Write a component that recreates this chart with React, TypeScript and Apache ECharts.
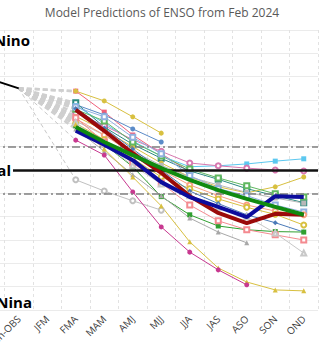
import { useEffect, useRef } from "react";
import * as echarts from "echarts";

const categories = ["Dec-OBS", "Jan-OBS", "JFM", "FMA", "MAM", "AMJ", "MJJ", "JJA", "JAS", "ASO", "SON", "OND"];
const observed = [1.95, 1.75];

// Forecasts from FMA onward
const modelPinkSq = [1.69, 1.24, 0.75, 0.35, -0.04];
const modelGoldShort = [1.69, 1.48, 1.14, 0.79];
const modelBlueShort = [1.4, 1.18, 0.88, 0.6];
const modelTeal = [1.44, 0.92, 0.55, 0.25, -0.02, -0.2, -0.4, -0.55, -0.7];
const modelCyan = [1.38, 1.0, 0.62, 0.3, 0.07, 0.09, 0.13, 0.19, 0.24];
const modelPinkCircle = [1.22, 0.95, 0.65, 0.4, 0.15, 0.09, 0.04, 0.0, -0.02];
const modelGoldCircle = [1.15, 0.85, 0.5, 0.15, -0.15, -0.36, -0.49, -0.36, -0.15];
const modelGreenSq = [1.3, 1.05, 0.6, 0.3, 0.02, -0.17, -0.34, -0.51, -0.58];
const modelGraySq = [1.05, 0.75, 0.4, 0.1, -0.15, -0.32, -0.48, -0.6, -0.71];
const modelSteelSq = [1.35, 1.14, 0.7, 0.35, -0.12, -0.4, -0.55, -0.75, -0.9];
const modelSalmon = [1.1, 0.75, 0.35, 0.0, -0.32, -0.55, -0.75, -0.88, -0.96];
const modelGoldOpen = [1.0, 0.65, 0.25, -0.15, -0.4, -0.62, -0.8, -0.95, -1.18];
const modelSteelDiamond = [1.32, 0.9, 0.45, 0.0, -0.45, -0.72, -0.96, -1.13, -1.33];
const modelGreenFilled = [0.95, 0.55, 0.07, -0.57, -0.96, -1.2, -1.28, -1.32, -1.33];
const modelPinkOpenSq = [1.12, 0.6, 0.15, -0.28, -0.75, -1.09, -1.28, -1.39, -1.5];
const modelGrayOpenTri = [1.02, 0.55, 0.1, -0.3, -0.55, -0.8, -1.0, -1.35, -1.78];
const modelGrayTri = [0.88, 0.4, -0.1, -0.55, -1.03, -1.33, -1.56];
const modelGrayCircle = [-0.21, -0.45, -0.66, -0.86];
const modelGoldTri = [0.98, 0.45, -0.15, -0.77, -1.54, -2.1, -2.4, -2.57, -2.59];
const modelMagenta = [0.64, 0.32, -0.47, -1.22, -1.76, -2.14, -2.46];

const avgStatistical = [1.29, 0.84, 0.36, -0.06, -0.56, -0.92, -1.14, -0.94, -0.96];
const avgDynamical = [0.84, 0.54, 0.21, -0.26, -0.58, -0.79, -1.01, -0.56, -0.58];
const consensus = [0.92, 0.6, 0.32, 0.04, -0.21, -0.43, -0.62, -0.79, -0.96];

const FIRST = 3;

const models = [
  { name: "M1", data: modelPinkSq, color: "#f0607a", symbol: "rect", thinConn: false },
  { name: "M2", data: modelGoldShort, color: "#d8c040", symbol: "circle", thinConn: false },
  { name: "M3", data: modelBlueShort, color: "#5b8bc8", symbol: "circle", thinConn: false },
  { name: "M4", data: modelTeal, color: "#2a8a80", symbol: "emptyRect", thinConn: false },
  { name: "M5", data: modelCyan, color: "#5cc8f0", symbol: "rect", thinConn: false },
  { name: "M6", data: modelPinkCircle, color: "#d878b0", symbol: "emptyCircle", thinConn: false },
  { name: "M7", data: modelGoldCircle, color: "#d8c040", symbol: "circle", thinConn: false },
  { name: "M8", data: modelGreenSq, color: "#60b860", symbol: "emptyRect", thinConn: false },
  { name: "M9", data: modelGraySq, color: "#b8b8b8", symbol: "rect", thinConn: false },
  { name: "M10", data: modelSteelSq, color: "#90b0e0", symbol: "emptyRect", thinConn: false },
  { name: "M11", data: modelSalmon, color: "#f8a080", symbol: "emptyCircle", thinConn: false },
  { name: "M12", data: modelGoldOpen, color: "#d8c040", symbol: "emptyCircle", thinConn: false },
  { name: "M13", data: modelSteelDiamond, color: "#4a7ab8", symbol: "diamond", thinConn: false },
  { name: "M14", data: modelGreenFilled, color: "#30a030", symbol: "rect", thinConn: false },
  { name: "M15", data: modelPinkOpenSq, color: "#f48a90", symbol: "emptyRect", thinConn: false },
  { name: "M16", data: modelGrayOpenTri, color: "#c8c8c8", symbol: "emptyTriangle", thinConn: false },
  { name: "M17", data: modelGrayTri, color: "#a8a8a8", symbol: "triangle", thinConn: false },
  { name: "M18", data: modelGrayCircle, color: "#c0c0c0", symbol: "emptyCircle", thinConn: true },
  { name: "M19", data: modelGoldTri, color: "#d8c040", symbol: "triangle", thinConn: false },
  { name: "M20", data: modelMagenta, color: "#c83890", symbol: "circle", thinConn: true },
];

const thick = [
  { name: "Average statistical", data: avgStatistical, color: "#9a0a0a" },
  { name: "Average dynamical", data: avgDynamical, color: "#0c0c9c" },
  { name: "Consensus", data: consensus, color: "#108a10" },
];

function pad(vals: number[]) {
  return categories.map((_, i) => {
    const k = i - FIRST;
    return k >= 0 && k < vals.length ? vals[k] : "-";
  });
}

export default function App() {
  const ref = useRef<HTMLDivElement>(null);
  useEffect(() => {
    if (!ref.current) return;
    const chart = echarts.init(ref.current, null, { renderer: "svg" });
    const series: any[] = [];
    models.forEach((m) => {
      series.push({
        name: m.name + "-conn",
        type: "line",
        data: categories.map((_, i) => (i === 1 ? observed[1] : i === FIRST ? m.data[0] : "-")),
        connectNulls: true,
        symbol: "none",
        silent: true,
        z: 1,
        lineStyle: m.thinConn
          ? { color: "#c8c8c8", width: 1, type: [4, 3] }
          : { color: "#cfcfcf", width: 2.5, type: [5, 3] },
      });
    });
    models.forEach((m) => {
      series.push({
        name: m.name,
        type: "line",
        data: pad(m.data),
        symbol: m.symbol,
        symbolSize: 5,
        z: 3,
        itemStyle: { color: m.color, borderWidth: 1 },
        lineStyle: { color: m.color, width: 1 },
      });
    });
    thick.forEach((t) => {
      series.push({
        name: t.name,
        type: "line",
        data: pad(t.data),
        symbol: "none",
        z: 5,
        lineStyle: { color: t.color, width: 4 },
      });
    });
    series.push({
      name: "Observed",
      type: "line",
      data: categories.map((_, i) => (i < observed.length ? observed[i] : "-")),
      symbol: "none",
      z: 6,
      lineStyle: { color: "#000", width: 2 },
      markLine: {
        silent: true,
        symbol: "none",
        label: { show: false },
        data: [
          { yAxis: 0.5, lineStyle: { color: "#808080", width: 1.5, type: [8, 3, 2, 3] } },
          { yAxis: -0.5, lineStyle: { color: "#808080", width: 1.5, type: [8, 3, 2, 3] } },
          { yAxis: 0, lineStyle: { color: "#111", width: 2.5, type: "solid" } },
        ],
      },
    });

    chart.setOption({
      animation: false,
      title: {
        text: "Model Predictions of ENSO from Feb 2024",
        left: "center",
        top: 1,
        textStyle: { fontSize: 12, fontWeight: "normal", color: "#595959", fontFamily: "Open Sans" },
      },
      grid: { left: 16, right: 46, top: 30, bottom: 43, containLabel: false, outerBoundsMode: "none" },
      xAxis: {
        type: "category",
        data: categories,
        boundaryGap: true,
        axisLine: { show: false },
        axisTick: { show: false },
        axisLabel: { interval: 0, rotate: 45, fontSize: 10, color: "#404040", margin: 7, fontFamily: "Open Sans" },
        splitLine: { show: true, interval: 0, lineStyle: { color: "#e2e2e2", type: [3, 3], width: 1 } },
      },
      yAxis: {
        type: "value",
        min: -3,
        max: 3,
        interval: 0.5,
        axisLine: { show: false },
        axisTick: { show: false },
        axisLabel: { show: false },
        splitLine: { lineStyle: { color: "#ebebeb", width: 1 } },
      },
      graphic: [
        {
          type: "text",
          x: 70,
          y: 40,
          style: { text: "El Nino", fontSize: 15, fontWeight: "bold", fill: "#000", align: "right", verticalAlign: "middle", fontFamily: "Open Sans" },
          z: 10,
        },
        {
          type: "text",
          x: 53,
          y: 170,
          style: {
            text: "Neutral",
            fontSize: 15,
            fontWeight: "bold",
            fill: "#000",
            align: "right",
            verticalAlign: "middle",
            fontFamily: "Open Sans",
            backgroundColor: "#fff",
            padding: [0, 2, 0, 2],
          },
          z: 10,
        },
        {
          type: "text",
          x: 72,
          y: 302,
          style: { text: "La Nina", fontSize: 15, fontWeight: "bold", fill: "#000", align: "right", verticalAlign: "middle", fontFamily: "Open Sans" },
          z: 10,
        },
      ],
      series,
    });
    return () => chart.dispose();
  }, []);

  return (
    <div style={{ position: "fixed", left: 0, top: 0, width: 324, height: 353, overflow: "hidden", background: "#fff" }}>
      <div ref={ref} style={{ position: "absolute", left: -40, top: 0, width: 404, height: 353 }} />
    </div>
  );
}
